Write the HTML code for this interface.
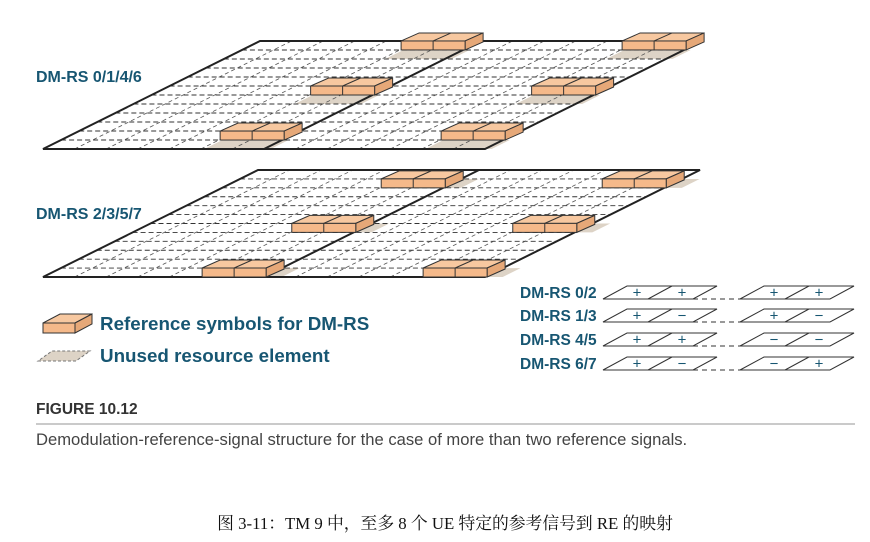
<!DOCTYPE html>
<html><head><meta charset="utf-8"><style>
body{margin:0;background:#fff;width:870px;height:542px;overflow:hidden}
svg{display:block}
.lbl{font-family:"Liberation Sans",sans-serif;font-weight:bold;fill:#175672}
</style></head><body>
<svg id="fig" width="870" height="542" viewBox="0 0 870 542" xmlns="http://www.w3.org/2000/svg">
<g id="planes"></g>
<text class="lbl" x="36" y="82" font-size="16">DM-RS 0/1/4/6</text>
<text class="lbl" x="36" y="219" font-size="16">DM-RS 2/3/5/7</text>
<g>
<polygon points="43,323 75,323 92,314 60,314" fill="#f7c8a0" stroke="#333" stroke-width="1"/>
<rect x="43" y="323" width="32" height="10" fill="#f5b98a" stroke="#333" stroke-width="1"/>
<polygon points="75,323 92,314 92,324 75,333" fill="#e6a878" stroke="#333" stroke-width="1"/>
<text class="lbl" x="100" y="330" font-size="18.8">Reference symbols for DM-RS</text>
<polygon points="38,361 76,361 90,351 52,351" fill="#ddd3c6" stroke="#777" stroke-dasharray="3,2"/>
<text class="lbl" x="100" y="362" font-size="18.8">Unused resource element</text>
</g>
<g id="table"></g>
<text x="36" y="414" font-family="Liberation Sans,sans-serif" font-weight="bold" font-size="15.5" fill="#333">FIGURE 10.12</text>
<line x1="36" y1="424" x2="855" y2="424" stroke="#aaa" stroke-width="1.2"/>
<text x="36" y="445" font-family="Liberation Sans,sans-serif" font-size="16.6" fill="#444">Demodulation-reference-signal structure for the case of more than two reference signals.</text>
<text x="445" y="529" text-anchor="middle" font-family="Liberation Serif,Noto Serif CJK SC,serif" font-size="16.8" fill="#111">图 3-11：TM 9 中，至多 8 个 UE 特定的参考信号到 RE 的映射</text>
</svg>
<script>
const NS="http://www.w3.org/2000/svg";
const planeBottoms=[149,277];
const planeHeights=[108,107];
const planeSlants=[217,215];
const blockRows=[[0.083,0.5,0.917],[0,0.417,0.833]];
const blockCols=[0.36,0.86];
const hasShadow=[true,false];
const signRows=["DM-RS 0/2","DM-RS 1/3","DM-RS 4/5","DM-RS 6/7"];
const signs=[["+","+","+","+"],["+","−","+","−"],["+","+","−","−"],["+","−","−","+"]];
function mk(parent,tag,attrs){const e=document.createElementNS(NS,tag);for(const k in attrs)e.setAttribute(k,attrs[k]);parent.appendChild(e);return e;}
const pg=document.getElementById('planes');
const X0=43,W=442;
planeBottoms.forEach((yb,pi)=>{
  const H=planeHeights[pi],D=planeSlants[pi];
  const P=(u,v)=>[X0+u*W+v*D,yb-v*H];
  const g=mk(pg,'g',{});
  
  
  const c=[P(0,0),P(1,0),P(1,1),P(0,1)];
  const bg=mk(g,'polygon',{points:c.map(p=>p.join(',')).join(' '),fill:'#fff'});
  
  
  blockCols.forEach(bu=>blockRows[pi].forEach(bv=>{
    const s=hasShadow[pi]?[P(bu+0.005,bv-0.083),P(bu+0.155,bv-0.083),P(bu+0.155,bv),P(bu+0.005,bv)]
                          :[P(bu+0.14,bv),P(bu+0.18,bv),P(bu+0.18,Math.min(1,bv+0.083)),P(bu+0.14,Math.min(1,bv+0.083))];
    const sh=mk(g,'polygon',{points:s.map(p=>p.join(',')).join(' '),fill:'#ddd3c6'});
    
    
  }));
  for(let r=1;r<12;r++){const v=r/12;const a=P(0,v),b=P(1,v);
    const l=mk(g,'line',{x1:a[0],y1:a[1],x2:b[0],y2:b[1],stroke:'#333','stroke-width':0.9,'stroke-dasharray':'5,3'});
    
    }
  for(let k=1;k<14;k++){if(k==7)continue;const u=k/14;const a=P(u,0),b=P(u,1);
    const l=mk(g,'line',{x1:a[0],y1:a[1],x2:b[0],y2:b[1],stroke:'#555','stroke-width':0.8,'stroke-dasharray':'4,3'});
    
    }
  const a=P(0.5,0),b=P(0.5,1);
  const dv=mk(g,'line',{x1:a[0],y1:a[1],x2:b[0],y2:b[1],stroke:'#222','stroke-width':2});
  
  
  const ol=mk(g,'polygon',{points:c.map(p=>p.join(',')).join(' '),fill:'none',stroke:'#222','stroke-width':2});
  
  
  blockCols.forEach(bu=>[...blockRows[pi]].reverse().forEach(bv=>{
    const p=P(bu,bv);const x=p[0],y=p[1];const bw=64,bh=9,ox=18,oy=8;
    const bk=mk(g,'g',{});
    
    
    mk(bk,'polygon',{points:`${x},${y-bh} ${x+bw},${y-bh} ${x+bw+ox},${y-bh-oy} ${x+ox},${y-bh-oy}`,fill:'#f7c8a0',stroke:'#333','stroke-width':1});
    mk(bk,'polygon',{points:`${x+bw},${y} ${x+bw+ox},${y-oy} ${x+bw+ox},${y-bh-oy} ${x+bw},${y-bh}`,fill:'#e6a878',stroke:'#333','stroke-width':1});
    mk(bk,'rect',{x:x,y:y-bh,width:bw,height:bh,fill:'#f5b98a',stroke:'#333','stroke-width':1});
    mk(bk,'line',{x1:x+bw/2,y1:y,x2:x+bw/2,y2:y-bh,stroke:'#333'});
    mk(bk,'line',{x1:x+bw/2,y1:y-bh,x2:x+bw/2+ox,y2:y-bh-oy,stroke:'#333'});
  }));
});
const tg=document.getElementById('table');
const rowY=[299,322,346,370];
signRows.forEach((name,i)=>{
  const yb=rowY[i],yt=yb-13;
  const t=mk(tg,'text',{x:520,y:yb-1,'font-size':15.5,class:'lbl'});t.textContent=name;
  
  
  [[603,693],[740,830]].forEach((g2,gi)=>{
    const [x1,x2]=g2,mid=(x1+x2)/2;
    const pl=mk(tg,'polygon',{points:`${x1},${yb} ${x2},${yb} ${x2+24},${yt} ${x1+24},${yt}`,fill:'#fff',stroke:'#333','stroke-width':1});
    
    
    mk(tg,'line',{x1:mid,y1:yb,x2:mid+24,y2:yt,stroke:'#333'});
    [0,1].forEach(j=>{const s=mk(tg,'text',{x:x1+34+j*45,y:yb-1.5,'font-size':15,'text-anchor':'middle','font-family':'Liberation Sans,sans-serif',fill:'#175672'});
      s.textContent=signs[i][gi*2+j];
      
      });
  });
  const d=mk(tg,'line',{x1:693,y1:yb,x2:740,y2:yb,stroke:'#333','stroke-dasharray':'5,4'});
  
  
});
</script>
</body></html>
